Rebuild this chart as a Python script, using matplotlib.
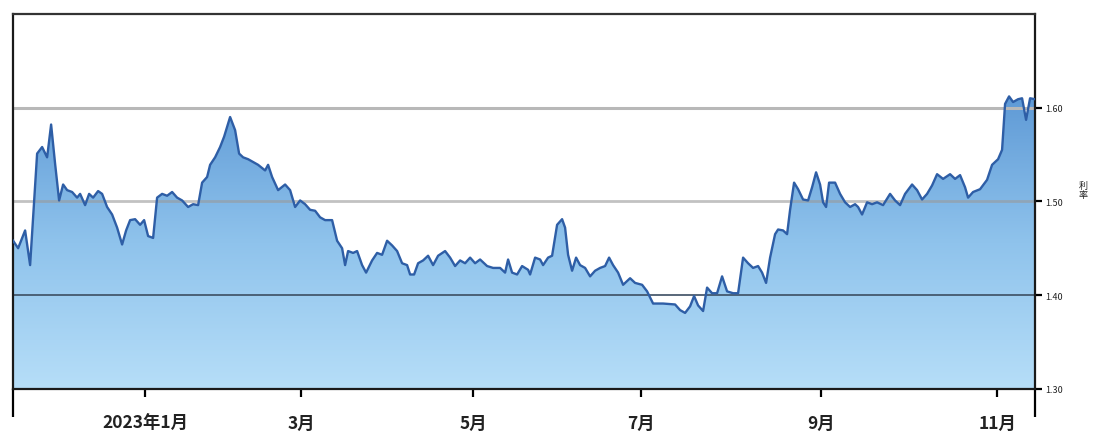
import numpy as np
import matplotlib
matplotlib.use("Agg")
import matplotlib.pyplot as plt
from matplotlib.patches import Polygon

plt.rcParams['font.family'] = ['Noto Sans CJK SC', 'DejaVu Sans']

# trading-day index (x) and value (y) of the series
day = [0, 1.25, 3, 4.25, 6, 7.25, 8.5, 9.5, 10.5, 11.5, 12.5, 13.5, 14.75, 16, 16.75,
       18, 19, 20, 21.25, 22.25, 23.5, 24.75, 26, 27.25, 28.25, 29.25, 30.5, 31.75,
       32.75, 33.75, 35, 36, 37.25, 38.5, 39.75, 41, 42.25, 43.75, 45, 46.25, 47.25,
       48.5, 49.25, 50.5, 51.75, 52.75, 54.25, 55.5, 56.5, 57.5, 58.75, 60, 61.25, 63,
       63.75, 64.75, 66.25, 68, 69.25, 70.5, 71.75, 73, 74.25, 75.5, 76.75, 78, 79.75,
       81, 82.25, 83, 83.75, 85, 86, 87.25, 88.25, 89.75, 91, 92.25, 93.5, 94.75, 96,
       97.25, 98.5, 99.25, 100.25, 101.25, 102.5, 103.75, 105, 106.25, 108, 109.25,
       110.5, 111.75, 113, 114.25, 115.5, 116.75, 118.5, 120, 121.75, 123, 123.75,
       124.75, 126, 127.25, 128.75, 129.25, 130.5, 131.75, 132.5, 133.75, 134.75, 136,
       137.25, 138, 138.75, 139.75, 140.75, 141.75, 143, 144.25, 145.5, 146.75, 148,
       149, 150, 151.25, 152.5, 154.25, 155.5, 157.25, 158.5, 160, 162.5, 165.5,
       166.75, 168, 169.25, 170.25, 171.25, 172.5, 173.5, 174.75, 176, 177.25, 178.5,
       180, 181.25, 182.5, 183.75, 185, 186.25, 187.25, 188.25, 189.25, 190.5, 191.25,
       192.5, 193.5, 194.25, 195.25, 196.25, 197.5, 198.75, 199.75, 200.75, 201.75,
       202.5, 203.25, 204, 205.5, 206.75, 208, 209.25, 210.5, 211.25, 212.25, 213.5,
       214.75, 216, 217.5, 219.25, 220.5, 221.75, 223, 224.75, 226, 227.25, 228.5,
       229.75, 231, 232.5, 234.25, 235.5, 236.75, 238, 238.75, 240, 241.75, 243.5,
       244.75, 246.25, 247.25, 248, 249, 250, 251.25, 252.25, 253.25, 254.25, 255.5]
value = [1.458, 1.450, 1.469, 1.432, 1.551, 1.558, 1.547, 1.582, 1.540, 1.501, 1.518,
         1.512, 1.510, 1.504, 1.508, 1.496, 1.508, 1.504, 1.511, 1.508, 1.494, 1.486,
         1.472, 1.454, 1.469, 1.480, 1.481, 1.475, 1.480, 1.463, 1.461, 1.504, 1.508,
         1.506, 1.510, 1.504, 1.501, 1.494, 1.497, 1.496, 1.520, 1.526, 1.539, 1.547,
         1.558, 1.569, 1.590, 1.576, 1.551, 1.547, 1.545, 1.542, 1.539, 1.533, 1.539,
         1.526, 1.512, 1.518, 1.512, 1.494, 1.501, 1.497, 1.491, 1.490, 1.483, 1.480,
         1.480, 1.458, 1.450, 1.432, 1.447, 1.445, 1.447, 1.432, 1.424, 1.437, 1.445,
         1.443, 1.458, 1.453, 1.447, 1.434, 1.432, 1.422, 1.422, 1.434, 1.437, 1.442,
         1.432, 1.442, 1.447, 1.440, 1.431, 1.437, 1.434, 1.440, 1.434, 1.438, 1.431,
         1.429, 1.429, 1.424, 1.438, 1.424, 1.422, 1.431, 1.427, 1.422, 1.440, 1.438,
         1.432, 1.440, 1.442, 1.475, 1.481, 1.472, 1.443, 1.426, 1.440, 1.432, 1.429,
         1.420, 1.426, 1.429, 1.431, 1.440, 1.432, 1.424, 1.411, 1.418, 1.413, 1.411,
         1.404, 1.391, 1.391, 1.390, 1.384, 1.381, 1.388, 1.399, 1.389, 1.383, 1.408,
         1.402, 1.402, 1.420, 1.404, 1.402, 1.402, 1.440, 1.434, 1.429, 1.431, 1.424,
         1.413, 1.440, 1.465, 1.470, 1.469, 1.465, 1.491, 1.520, 1.513, 1.502, 1.501,
         1.515, 1.531, 1.518, 1.499, 1.494, 1.520, 1.520, 1.508, 1.499, 1.494, 1.497,
         1.494, 1.486, 1.499, 1.497, 1.499, 1.496, 1.508, 1.501, 1.496, 1.508, 1.518,
         1.512, 1.502, 1.508, 1.517, 1.529, 1.524, 1.529, 1.524, 1.528, 1.515, 1.504,
         1.510, 1.513, 1.523, 1.539, 1.545, 1.555, 1.604, 1.612, 1.606, 1.609, 1.610,
         1.587, 1.610, 1.609]

tick_days = [33, 72, 115, 157, 202, 246]
tick_labels = ['2023年1月', '3月', '5月', '7月', '9月', '11月']
y_ticks = [1.30, 1.40, 1.50, 1.60]
y_labels = ['1.30', '1.40', '1.50', '1.60']

x_min, x_max = 0, 255.5
y_min, y_max = 1.30, 1.70

fig = plt.figure(figsize=(10.93, 4.39), dpi=100)
ax = fig.add_axes([0.012, 0.112, 0.935, 0.854])
ax.set_xlim(x_min, x_max)
ax.set_ylim(y_min, y_max)

# gradient fill under the curve
grad = np.linspace(0, 1, 256).reshape(-1, 1)
cmap = matplotlib.colors.LinearSegmentedColormap.from_list(
    'blues', ['#b6def8', '#8fc3ec', '#5f9ad6'])
img = ax.imshow(grad, cmap=cmap, aspect='auto', origin='lower',
                extent=[x_min, x_max, y_min, max(value)], zorder=1)
verts = [(day[0], y_min)] + list(zip(day, value)) + [(day[-1], y_min)]
clip = Polygon(verts, closed=True, transform=ax.transData, facecolor='none',
               edgecolor='none')
ax.add_patch(clip)
img.set_clip_path(clip)

# horizontal reference lines
ax.axhline(1.60, color='#b8b8b8', lw=2.2, zorder=2)
ax.axhline(1.50, color='#9a9a9a', lw=2.0, alpha=0.6, zorder=2)
ax.axhline(1.40, color='#3c4e62', lw=1.2, zorder=2)

ax.plot(day, value, color='#2e5ea6', lw=1.7, zorder=3)

# axes styling
for side in ['left', 'top', 'right', 'bottom']:
    ax.spines[side].set_linewidth(1.6)
    ax.spines[side].set_color('#1a1a1a')
ax.spines['top'].set_color('#333333')

ax.set_xticks(tick_days)
ax.set_xticklabels(tick_labels, fontsize=12.5, fontweight='bold', color='#222222')
ax.tick_params(axis='x', direction='out', length=6, width=1.6, pad=12)
ax.set_xticks([x_min, x_max], minor=True)
ax.tick_params(axis='x', which='minor', direction='out', length=20, width=1.6)

ax.yaxis.tick_right()
ax.set_yticks(y_ticks)
ax.set_yticklabels(y_labels, fontsize=6.5, color='#222222')
ax.tick_params(axis='y', direction='out', length=5, width=1.6, pad=2)
ax.set_yticks([], minor=True)

fig.text(0.991, 0.565, '利\n率', fontsize=6.5, color='#222222', ha='center',
         va='center', linespacing=0.9)

fig.savefig('out.png', dpi=100)
